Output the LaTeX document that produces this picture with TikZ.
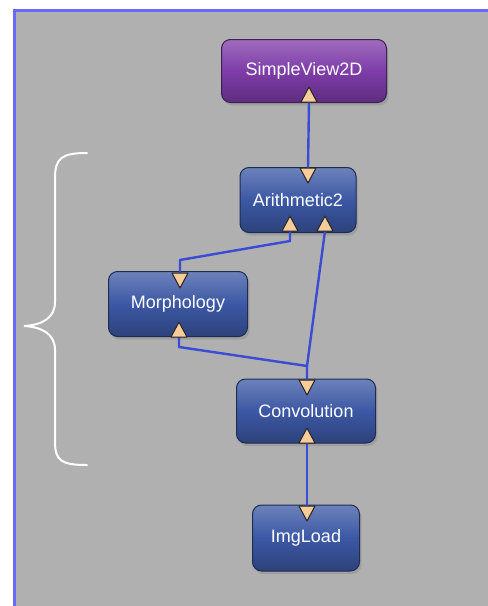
\documentclass[tikz,border=0pt]{standalone}
\usepackage{fontspec}
\setmainfont{Liberation Sans}
\usetikzlibrary{shadows}
\definecolor{netgray}{HTML}{B0B0B0}
\definecolor{frameblue}{HTML}{6A6AF8}
\definecolor{wireblue}{HTML}{3A4CD6}
\definecolor{porttan}{HTML}{F6CC98}
\definecolor{modblue}{HTML}{3C58A4}
\definecolor{modpurple}{HTML}{7E3CA8}
\tikzset{
  module/.style={rounded corners=9pt, draw=#1!50!black, line width=1pt,
    top color=#1!75!white, bottom color=#1!75!black, middle color=#1,
    drop shadow={shadow xshift=2pt, shadow yshift=-3pt, opacity=.35},
    text=white, font=\fontsize{18}{20}\selectfont, inner sep=0pt},
  wire/.style={wireblue, line width=2.4pt, line join=round},
  port/.style={fill=porttan, draw=black!85, line width=1pt, line join=round},
  inport/.pic={\draw[port] (-8,0) -- (8,0) -- (0,-15) -- cycle;},
  outport/.pic={\draw[port] (-8,0) -- (8,0) -- (0,15) -- cycle;}
}
\begin{document}
\begin{tikzpicture}[x=1pt,y=-1pt]
\useasboundingbox (0,0) rectangle (488,606);
\fill[white] (0,0) rectangle (488,606);
\fill[netgray] (14,10) rectangle (488,606);
\draw[frameblue, line width=3pt] (14,606) -- (14,10) -- (488,10);
% brace round the filter part
\draw[white, line width=2pt, line cap=round]
  (87,153) .. controls (62,153) and (55,158) .. (55,178) -- (55,302)
  .. controls (55,318) and (42,325) .. (24,326)
  .. controls (42,327) and (55,334) .. (55,350) -- (55,442)
  .. controls (55,461) and (62,465) .. (87,465);
% modules
\node[module=modpurple, minimum width=165pt, minimum height=63pt] (sv) at (304,71) {SimpleView2D};
\node[module=modblue, minimum width=116pt, minimum height=65pt] (arith) at (298,200) {Arithmetic2};
\node[module=modblue, minimum width=139pt, minimum height=65pt] (morph) at (178,304) {Morphology};
\node[module=modblue, minimum width=139pt, minimum height=64pt] (conv) at (306,411) {Convolution};
\node[module=modblue, minimum width=107pt, minimum height=66pt] (img) at (306,538) {ImgLoad};
% ports
\coordinate (sv-in) at (309,102);
\coordinate (arith-out) at (308,168);
\coordinate (arith-in1) at (290,231);
\coordinate (arith-in2) at (325,231);
\coordinate (morph-out) at (180,273);
\coordinate (morph-in) at (179,337);
\coordinate (conv-out) at (307,380);
\coordinate (conv-in) at (307,443);
\coordinate (img-out) at (307,506);
\coordinate (join) at (307,366);
% connections
\draw[wire] (sv-in) -- (arith-out);
\draw[wire] (arith-in1) -- ++(0,10) -- ++(-110,19) -- (morph-out);
\draw[wire] (arith-in2) -- (join) -- (conv-out);
\draw[wire] (morph-in) -- ++(0,10) -- (join);
\draw[wire] (conv-in) -- (img-out);
\pic at (sv-in) {inport};
\pic at (arith-out) {outport};
\pic at (arith-in1) {inport};
\pic at (arith-in2) {inport};
\pic at (morph-out) {outport};
\pic at (morph-in) {inport};
\pic at (conv-out) {outport};
\pic at (conv-in) {inport};
\pic at (img-out) {outport};
\end{tikzpicture}
\end{document}
